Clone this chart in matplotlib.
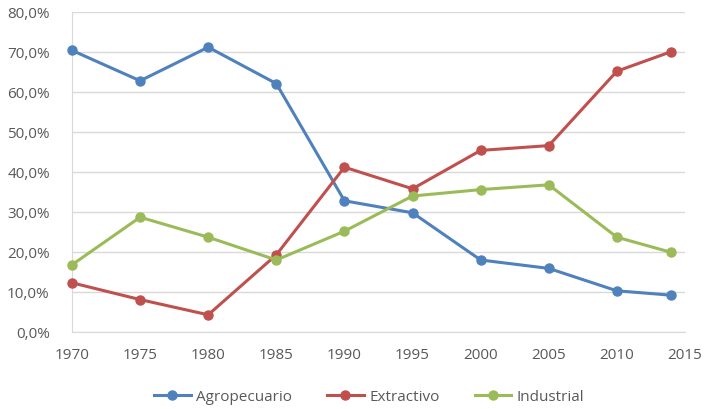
import matplotlib.pyplot as plt
from matplotlib.ticker import FuncFormatter

years = [1970, 1975, 1980, 1985, 1990, 1995, 2000, 2005, 2010, 2014]
agropecuario = [70.4, 62.8, 71.2, 62.1, 32.8, 29.8, 18.0, 15.9, 10.3, 9.2]
extractivo = [12.3, 8.1, 4.3, 19.3, 41.2, 35.8, 45.4, 46.6, 65.2, 70.1]
industrial = [16.8, 28.7, 23.7, 18.0, 25.2, 34.0, 35.6, 36.8, 23.7, 19.9]
tick_years = [1970, 1975, 1980, 1985, 1990, 1995, 2000, 2005, 2010, 2015]

plt.rcParams['font.family'] = ['Open Sans', 'DejaVu Sans']
grey = '#595959'

fig = plt.figure(figsize=(7.04, 4.10), dpi=100)
ax = fig.add_axes([72 / 704, 1 - 333 / 410, (685 - 72) / 704, (333 - 13) / 410])

series = [('Agropecuario', agropecuario, '#4F81BD'),
          ('Extractivo', extractivo, '#C0504D'),
          ('Industrial', industrial, '#9BBB59')]
for name, vals, col in series:
    ax.plot(years, [v / 100 for v in vals], color=col, lw=2.2, marker='o',
            ms=6.5, label=name, clip_on=False, zorder=3)

ax.set_xlim(1970, 2015)
ax.set_ylim(0, 0.8)
ax.set_xticks(tick_years)
ax.set_yticks([i / 10 for i in range(9)])
ax.yaxis.set_major_formatter(FuncFormatter(lambda v, p: f'{v * 100:.1f}%'.replace('.', ',')))
ax.grid(axis='y', color='#D9D9D9', lw=1)
ax.set_axisbelow(True)
for s in ['top', 'right']:
    ax.spines[s].set_visible(False)
for s in ['left', 'bottom']:
    ax.spines[s].set_color('#D9D9D9')
ax.tick_params(length=0, colors=grey, labelsize=11)
ax.tick_params(axis='x', pad=11)
ax.tick_params(axis='y', pad=16)

fig.legend(loc='center', bbox_to_anchor=(369 / 704, 1 - 398 / 410), ncol=3,
           frameon=False, fontsize=11, labelcolor=grey, handlelength=2.4,
           columnspacing=2.3, handletextpad=0.35)

fig.savefig('out.png', dpi=100)
